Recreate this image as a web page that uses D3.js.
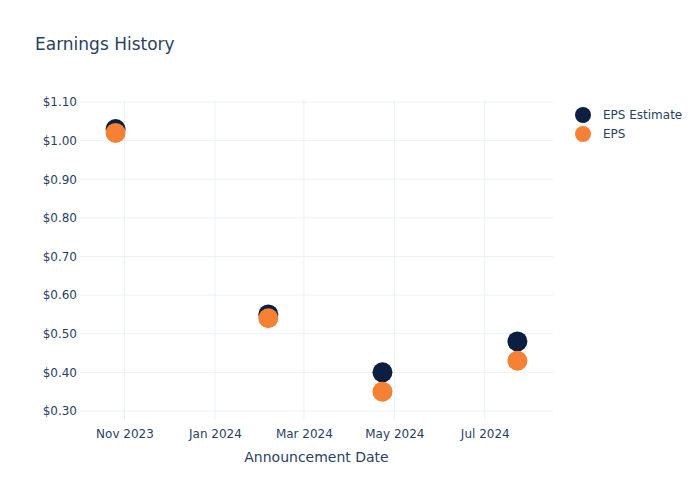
<!DOCTYPE html>
<html><head><meta charset="utf-8">
<script src="https://cdn.jsdelivr.net/npm/d3@7"></script>
<style>body{margin:0;background:#fff}svg{display:block}text{font-family:"DejaVu Sans",Verdana,sans-serif;fill:#2a3f5f}</style>
</head><body>
<script>
const dates = ["2023-10-26","2024-02-06","2024-04-23","2024-07-23"];
const epsEstimate = [1.03, 0.55, 0.40, 0.48];
const eps = [1.02, 0.54, 0.35, 0.43];
const yTicks = [0.3,0.4,0.5,0.6,0.7,0.8,0.9,1.0,1.1];
const xTickDates = ["2023-11-01","2024-01-01","2024-03-01","2024-05-01","2024-07-01"];
const seriesNames = ["EPS Estimate","EPS"];
const colors = ["#0c1f40","#f58134"];

const W=700,H=500, L=80, R=553, T=101, B=421;
const parse = d3.utcParse("%Y-%m-%d");
const svg = d3.select("body").append("svg").attr("width",W).attr("height",H);
const x = d3.scaleUtc().domain([parse("2023-10-02"), parse("2024-08-16")]).range([L,R]);
const y = d3.scaleLinear().domain([0.274,1.1026]).range([B,T]);

const g = svg.append("g");
g.selectAll(".gx").data(xTickDates).join("line")
  .attr("x1",d=>x(parse(d))).attr("x2",d=>x(parse(d))).attr("y1",T-1).attr("y2",B-1)
  .attr("stroke","#ebf0f8").attr("stroke-width",1);
g.selectAll(".gy").data(yTicks).join("line")
  .attr("x1",L).attr("x2",R).attr("y1",d=>y(d)).attr("y2",d=>y(d))
  .attr("stroke","#ebf0f8").attr("stroke-width",1);

const fmtX = d3.utcFormat("%b %Y");
const xAxis = d3.axisBottom(x).tickValues(xTickDates.map(parse)).tickFormat(fmtX).tickSize(0).tickPadding(9);
const xa = svg.append("g").attr("transform",`translate(0,${B-1})`).call(xAxis);
xa.select(".domain").remove();
xa.selectAll("text").attr("font-size",12).style("fill","#2a3f5f").attr("font-family","DejaVu Sans");

const yAxis = d3.axisLeft(y).tickValues(yTicks).tickFormat(d=>"$"+d.toFixed(2)).tickSize(0).tickPadding(2);
const ya = svg.append("g").attr("transform",`translate(${L-1},0)`).call(yAxis);
ya.select(".domain").remove();
ya.selectAll("text").attr("font-size",12).style("fill","#2a3f5f").attr("font-family","DejaVu Sans");

const series = [epsEstimate, eps];
series.forEach((vals,i)=>{
  svg.append("g").selectAll("circle").data(vals).join("circle")
    .attr("cx",(d,j)=>x(parse(dates[j]))).attr("cy",d=>y(d)).attr("r",10)
    .attr("fill",colors[i]);
});

svg.append("text").attr("x",35).attr("y",50).attr("font-size",17).text("Earnings History");
svg.append("text").attr("x",(L+R)/2).attr("y",462).attr("text-anchor","middle").attr("font-size",14).text("Announcement Date");

const lg = svg.append("g");
seriesNames.forEach((n,i)=>{
  lg.append("circle").attr("cx",583).attr("cy",115+i*19).attr("r",8).attr("fill",colors[i]);
  lg.append("text").attr("x",603).attr("y",119+i*19).attr("font-size",12).text(n);
});
</script>
</body></html>
